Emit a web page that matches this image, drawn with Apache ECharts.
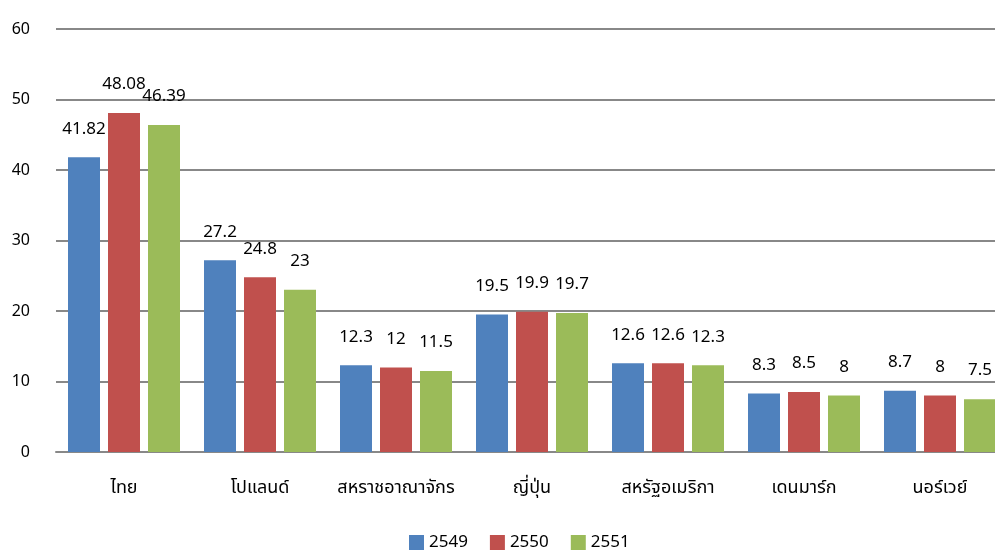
<!DOCTYPE html>
<html>
<head>
<meta charset="utf-8">
<script src="https://cdn.jsdelivr.net/npm/echarts@6/dist/echarts.min.js"></script>
<style>
  html, body { margin: 0; padding: 0; background: #fff; overflow: hidden; }
  #wrap { width: 995px; height: 551px; overflow: hidden; position: relative; }
  /* canvas is a little wider than the page so the last category runs past the edge */
  #chart { width: 1008px; height: 551px; }
</style>
</head>
<body>
<div id="wrap"><div id="chart"></div></div>
<script>
// Countries on the category axis
const countries = ['ไทย', 'โปแลนด์', 'สหราชอาณาจักร', 'ญี่ปุ่น', 'สหรัฐอเมริกา', 'เดนมาร์ก', 'นอร์เวย์'];
// Series names (years)
const years = ['2549', '2550', '2551'];
// Values for each year
const values2549 = [41.82, 27.2, 12.3, 19.5, 12.6, 8.3, 8.7];
const values2550 = [48.08, 24.8, 12, 19.9, 12.6, 8.5, 8];
const values2551 = [46.39, 23, 11.5, 19.7, 12.3, 8, 7.5];
// Y axis ticks
const yMin = 0, yMax = 60, yStep = 10;

const colors = ['#4F81BD', '#C0504D', '#9BBB59'];
const fontFamily = '"Noto Sans", "Noto Sans Thai", Tahoma, "DejaVu Sans", sans-serif';

const chart = echarts.init(document.getElementById('chart'));

function makeSeries(name, data, color) {
  return {
    name: name,
    type: 'bar',
    data: data,
    barWidth: 32,
    barGap: '25%',
    itemStyle: { color: color },
    label: {
      show: true,
      position: 'top',
      distance: 20,
      color: '#000',
      fontSize: 17,
      fontFamily: fontFamily
    },
    emphasis: { disabled: true }
  };
}

chart.setOption({
  animation: false,
  textStyle: { fontFamily: fontFamily },
  grid: { left: 56, right: 0, top: 29, bottom: 99, containLabel: false },
  legend: {
    bottom: 0,
    left: 409,
    padding: 0,
    itemWidth: 15,
    itemHeight: 15,
    itemGap: 22,
    icon: 'rect',
    textStyle: { fontSize: 17, color: '#000', fontFamily: fontFamily },
    data: years
  },
  xAxis: {
    type: 'category',
    data: countries,
    axisTick: { show: false },
    axisLine: { lineStyle: { color: '#888888', width: 2 } },
    axisLabel: { color: '#000', fontSize: 18, margin: 27, interval: 0, fontFamily: fontFamily }
  },
  yAxis: {
    type: 'value',
    min: yMin,
    max: yMax,
    interval: yStep,
    axisLine: { show: false },
    axisTick: { show: false },
    splitLine: { lineStyle: { color: '#888888', width: 2 } },
    axisLabel: { color: '#000', fontSize: 16, margin: 26, fontFamily: fontFamily }
  },
  series: [
    makeSeries(years[0], values2549, colors[0]),
    makeSeries(years[1], values2550, colors[1]),
    makeSeries(years[2], values2551, colors[2])
  ]
});
</script>
</body>
</html>
